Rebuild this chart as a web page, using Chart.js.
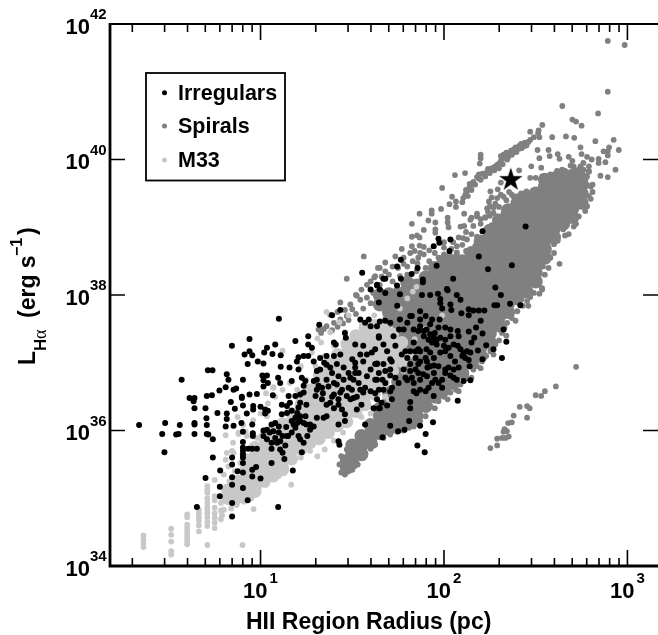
<!DOCTYPE html>
<html>
<head>
<meta charset="utf-8">
<title>HII regions</title>
<script src="https://cdn.jsdelivr.net/npm/chart.js@4"></script>
<style>
body { margin: 0; background: #fff; overflow: hidden; }
canvas { display: block; }
</style>
</head>
<body>
<canvas id="hiiChart" width="658" height="635"></canvas>
<script>
// all values are log10(radius/pc), log10(L/erg s-1)
var xDecades = [1, 2, 3];
var yDecades = [34, 36, 38, 40, 42];
var minorFactors = [2, 3, 4, 5, 6, 7, 8, 9];
var legendNames = ["Irregulars", "Spirals", "M33"];
var starPoint = [2.364, 39.70];

// logR, logL, logR, logL ...
var irregularsLeft = [
.338,36.08,.48,36.11,.464,35.95,.476,35.68,.56,36.08,.553,35.95,.54,35.94,.57,36.75,.64,36.09,.64,36.11,.64,35.95,
.613,36.48,.64,36.48,.635,36.43,.64,36.33,.70,36.33,.707,36.51,.735,36.52,.713,36.89,.738,36.89,.705,36.18,.707,36.08,
.707,35.95,.715,35.94,.74,35.87,.74,35.6,.765,36.26,.70,35.3,.653,34.87,.776,36.59,.78,35.41,.778,35.17,.778,35.03,
.81,36.64,.816,36.83,.825,36.75,.816,36.25,.816,36.17,.81,36.06,.853,36.07,.844,37.25,.838,36.42,.86,36.32,.853,36.6,.867,36.62,
.845,35.6,.845,35.5,.845,35.31,.845,35.2,.845,34.93,.845,34.73,.904,36.75,.898,36.5,.898,36.48,.904,36.37,.896,36.11,.904,35.98,
.904,35.83,.904,35.75,.904,35.7,.904,35.65,.904,35.6,.904,35.52,.904,35.38,.904,35.15,.875,35.4,.93,34.97,.94,37.35,.913,37.12,
.94,37.17,.955,37.11,.93,36.98,.94,36.53,.98,36.54,.925,36.25,.96,36.36,.96,36.31,.955,36.09,.958,35.96,.958,35.92,
.933,35.73,.955,35.73,.98,35.73,.955,35.42,.976,35.46,.955,35.32,1.0,35.29,.985,37.02,1.016,36.99,1.02,37.15,1.035,37.22,
1.065,37.13,1.08,37.27,1.11,37.11,1.1,37.65,1.01,36.81,1.035,36.81,1.016,36.74,1.04,36.7,1.016,36.65,1.0,36.35,1.025,36.31,
1.04,36.29,1.025,36.25,1.067,36.52,1.096,36.78,1.107,36.7,1.11,36.94,1.158,36.93,1.19,37.32,1.176,35.41,1.096,34.87,1.06,35.52,1.13,35.58
];
var irregularsMiddle = [
1.06,36.09,1.08,36.11,1.10,36.06,1.035,36.01,1.05,35.97,1.07,35.99,1.10,35.97,1.12,35.92,1.016,35.92,1.035,35.87,1.06,35.82,
1.09,35.82,1.06,35.73,1.107,35.72,1.12,35.67,1.15,35.92,1.17,35.97,1.14,36.05,1.18,36.09,1.207,35.92,1.216,35.87,1.235,35.82,
1.255,35.92,1.225,35.68,1.29,36.06,1.25,36.09,1.27,36.01,1.425,36.09,1.46,36.14,1.57,36.09,1.425,35.84,1.43,35.79,1.116,36.24,
1.144,36.26,1.17,36.29,1.2,36.26,1.216,36.21,1.19,36.19,1.216,36.14,1.16,36.41,1.19,36.51,1.216,36.53,1.235,36.56,1.153,36.51,
1.216,36.41,1.207,36.34,1.25,36.38,1.144,36.36,1.116,36.38,1.17,36.73,1.225,36.78,1.207,36.9,1.198,37.02,1.235,37.1,1.26,37.1,
1.207,37.08,1.26,37.27,1.26,37.39,1.28,37.22,1.29,37.02,1.325,37.07,1.36,37.1,1.32,37.56,1.39,37.7,1.435,37.78,1.4,37.3,1.41,37.27,
1.46,37.44,1.465,37.37,1.435,37.12,1.4,37.1,1.36,36.97,1.38,36.93,1.416,36.98,1.453,36.93,1.307,36.88,1.325,36.9,1.316,36.66,
1.335,36.63,1.37,36.65,1.416,36.68,1.49,36.78,1.535,36.85,1.516,37.0,1.516,37.27,1.56,37.25,1.58,37.12,1.544,37.12,1.516,36.85,
1.516,36.93,1.6,36.9,1.635,36.98,1.544,37.64,1.57,37.59,1.6,37.54,1.645,37.39,1.59,37.64,1.65,37.61,1.65,38.08,1.645,37.89,
1.435,36.56,1.4,36.53,1.38,36.41,1.36,36.38,1.4,36.33,1.425,36.38,1.444,36.31,1.46,36.24,1.335,36.46,1.3,36.51,1.48,36.63,
1.47,36.51,1.507,36.48,1.544,36.6,1.57,36.63,1.525,36.31,1.55,36.38,1.6,36.58,1.635,36.46,1.65,36.33,1.344,36.19,1.36,36.21,
1.29,36.73,1.244,36.73,1.235,36.66,
1.016,36.0,1.08,35.89,1.107,35.84,1.135,35.78,1.17,36.14,1.2,36.11,1.235,36.11,1.19,36.04,1.144,35.92,1.245,36.21,1.27,36.09,1.307,36.19,
1.307,36.6,1.34,36.55,1.307,36.75,1.347,37.0,1.39,36.85,1.425,36.8,1.453,36.75,1.48,36.85,1.507,36.75,1.36,36.75,1.4,36.7,1.444,36.6,
1.39,36.5,1.425,36.46,1.49,36.46,1.525,36.5,1.56,36.56,1.5,37.05,1.56,37.02,1.607,37.15,1.625,36.75,1.58,36.8,1.535,36.7,1.498,36.6
];
var irregularsRight = [
1.68,38.03,1.76,38.01,1.88,38.0,1.925,38.0,1.967,38.02,2.02,38.07,2.07,38.0,2.09,37.93,1.98,37.94,1.98,37.88,2.035,37.86,
2.04,37.78,1.99,37.8,2.095,37.73,2.135,37.79,2.135,37.7,2.16,37.77,2.19,37.77,2.22,37.77,2.275,37.85,2.29,37.85,2.31,38.0,
2.36,37.87,2.416,37.85,2.2,37.62,2.325,37.49,2.34,37.31,2.175,37.52,2.135,37.46,2.21,37.43,2.165,37.37,2.15,37.3,2.075,37.47,
2.08,37.39,2.23,37.26,2.27,37.2,2.316,37.07,2.21,37.05,2.185,37.18,2.144,37.15,2.125,37.17,2.075,37.25,2.09,37.2,2.107,37.14,
2.116,37.07,2.135,37.04,2.14,36.95,2.107,36.73,2.144,36.74,2.075,36.44,1.944,36.51,1.916,36.63,1.87,36.6,1.9,36.58,1.835,36.58,
1.85,36.55,1.816,36.42,1.816,36.33,1.81,36.14,1.69,36.37,1.707,36.07,1.665,35.9,1.75,35.99,1.785,36.01,1.87,36.07,1.94,36.12,
1.9,35.95,1.855,35.78,1.895,35.68,1.87,37.76,1.825,37.69,1.87,37.64,1.9,37.69,1.935,37.64,1.976,37.64,1.925,37.57,1.97,37.52,
2.007,37.52,2.035,37.49,1.86,37.47,1.89,37.47,1.925,37.42,1.916,37.34,1.945,37.37,1.98,37.37,2.007,37.34,1.935,37.3,1.96,37.27,
2.0,37.25,2.007,37.17,1.835,37.3,1.86,37.2,1.845,37.17,1.87,37.17,1.905,37.2,1.925,37.15,1.845,37.07,1.816,36.98,1.87,37.02,
1.9,37.07,1.945,37.07,1.97,36.95,1.945,36.96,1.91,36.93,1.86,36.98,1.845,36.9,1.887,36.83,1.86,36.85,1.79,36.78,1.8,36.74,
1.945,36.85,1.953,36.75,1.97,36.7,2.007,36.9,2.025,36.93,2.053,36.9,2.08,36.93,2.007,36.85,2.053,36.78,2.07,36.75,2.035,36.81,
1.99,36.75,1.635,37.54,1.645,37.37,1.68,37.62,1.745,37.84,1.755,37.49,1.78,37.49,1.76,37.64,1.707,37.05,1.77,37.12,1.79,37.17,
1.715,37.02,1.67,36.98,1.635,36.99,1.707,36.9,1.68,36.88,1.645,36.85,1.707,36.81,1.735,36.78,1.635,36.75,1.665,36.75,1.645,36.6,
1.717,36.63,1.707,36.58,1.67,36.6,1.625,36.55,1.616,36.33,1.645,36.33,
1.87,37.54,1.905,37.49,1.95,37.44,1.89,37.39,1.96,37.34,2.035,37.39,2.053,37.27,2.025,37.22,1.98,37.15,2.035,37.1,2.06,37.02,2.1,37.1,
1.907,37.02,1.925,36.95,1.816,36.88,1.825,36.78,1.87,36.75,1.907,36.8,1.99,36.63,1.935,36.7,1.835,36.7,1.78,36.9,1.8,37.07,1.816,37.17,
1.835,37.49,1.8,37.59,1.707,37.59,1.816,37.69,1.725,37.39,1.67,37.27,1.625,37.2,1.69,37.17,1.735,37.25,1.68,36.7,1.753,36.7,1.625,36.98,
1.716,36.46,1.66,36.41
];
var irregularsTop = [
2.445,39.01,2.21,38.94,2.37,38.44,2.19,38.57,2.24,38.38,2.28,38.11,1.97,38.83,1.975,38.77,1.944,38.72,2.035,38.82,2.03,38.65,
1.96,38.43,1.765,38.52,1.745,38.42,1.856,38.4,1.824,38.31,1.765,38.24,1.885,38.23,1.885,38.19,2.05,38.24,2.016,38.09,1.68,38.24,
1.67,38.24,1.635,38.14,1.744,38.14,1.6,38.08,1.554,38.33,1.635,38.15
];

var spiralsUpper = [
2.893,41.75,2.985,41.69,2.893,41.0,2.645,40.79,2.84,40.68,2.70,40.59,2.72,40.56,2.75,40.5,2.536,40.51,2.516,40.43,2.513,40.39,
2.47,40.41,2.49,40.33,2.52,40.33,2.59,40.33,2.665,40.34,2.71,40.32,2.925,40.29,2.825,40.27,2.90,40.18,2.744,40.18,2.953,40.14,
2.51,40.14,2.57,40.14,2.52,40.02,2.576,40.05,2.62,40.08,2.63,40.01,2.87,40.12,2.893,40.12,2.893,40.06,2.843,40.01,2.843,39.95,
2.88,39.96,2.68,40.04,2.70,39.98,2.69,39.91,2.75,40.08,2.78,40.04,2.805,40.0,2.76,39.95,2.79,39.9,2.935,39.85,2.893,39.74,2.853,39.76,
2.476,39.9,2.53,39.88,2.41,39.84,2.2,40.07,2.2,40.02,2.195,39.94,2.06,39.77,2.115,39.8,1.99,39.58,2.253,39.53,2.293,39.56,2.31,39.66,
2.044,39.45,2.03,39.34,2.065,39.38,2.065,39.3,2.1,39.37,1.984,39.27,1.933,39.25,1.933,39.2,1.867,39.2,1.825,39.05,1.915,39.1,1.953,39.07,
2.02,39.14,2.02,39.07,2.025,39.0,1.89,38.96,1.953,38.97,1.953,38.92,1.825,38.86,1.853,38.88,1.867,38.85,1.825,38.72,1.867,38.73,1.89,38.71,
2.63,38.46,2.11,39.2,2.09,39.01,2.11,39.02,2.15,39.14,2.18,39.2,2.2,39.12,2.225,39.15,2.25,39.17,2.28,39.1,2.24,39.23,2.25,39.31,
2.27,39.29,2.245,39.38,2.26,39.44,2.29,39.43,2.325,39.45,2.355,39.52,2.38,39.45,2.105,38.84,2.125,38.82,2.15,38.9,2.18,38.86,
2.144,39.11,2.18,39.16,2.225,39.14,2.27,39.21,2.235,39.28,2.28,39.35,2.3,39.3,2.34,39.4,2.37,39.48,2.31,39.48,2.2,39.05,2.16,39.02,
2.12,38.93,2.08,38.85,2.05,38.78,2.0,38.7,2.0,38.78,1.95,38.62,1.92,38.66,1.89,38.6,1.86,38.55,1.83,38.5,2.07,38.72,2.1,38.74,
// streak above the star
2.116,39.48,2.125,39.53,2.14,39.6,2.16,39.67,2.18,39.74,2.21,39.79,2.235,39.82,2.26,39.87,2.29,39.92,2.31,39.98,2.325,40.07,
2.355,40.09,2.38,40.15,2.41,40.2,2.44,40.25,2.47,40.29,2.13,39.46,2.15,39.55,2.17,39.63,2.2,39.7,2.225,39.75,2.25,39.8,2.275,39.84,
2.3,39.87,2.32,39.93,2.345,40.0,2.37,40.07,2.395,40.11,2.425,40.17,2.45,40.21,2.105,39.43,2.14,39.64,2.19,39.78,2.24,39.86,2.28,39.9,
2.33,40.02,2.35,40.04,2.38,40.11,2.41,40.16,2.44,40.2,2.31,40.05,2.34,40.1,2.365,40.13,2.4,40.17,2.43,40.22,2.46,40.26,
2.12,39.55,2.15,39.62,2.19,39.72,2.23,39.79,2.27,39.88,2.3,39.94,2.335,40.06,2.39,40.18,2.42,40.23,
// row along the top of the cloud
2.47,39.73,2.50,39.73,2.535,39.75,2.544,39.66,2.58,39.78,2.616,39.83,2.644,39.85,2.607,39.6,2.65,39.66,2.69,39.75,2.725,39.8,
2.76,39.85,2.744,39.9,2.78,39.63,2.81,39.63,2.45,39.53,2.42,39.5,2.4,39.46,2.78,39.75,2.76,39.46,2.78,39.31,2.735,39.16,
2.707,39.01,2.65,38.97,2.81,39.52,2.8,39.42,2.77,39.24,2.72,39.05,2.68,38.9,2.6,38.75,2.62,39.74,2.67,39.8,2.71,39.85,2.74,39.8,2.79,39.82,
2.707,39.9,2.735,39.85,2.76,39.75,2.79,39.83,2.735,39.7,2.707,39.66,2.69,39.8,2.77,39.63,2.8,39.6,2.79,39.46,2.77,39.31,
// left strip
1.77,38.68,1.735,38.57,1.68,38.48,1.65,38.4,1.625,38.28,1.72,38.42,1.816,38.62,1.84,38.65,1.87,38.62,1.78,38.55,1.855,38.47,1.8,38.42,
1.563,38.57,1.47,38.24,1.52,38.0,1.64,38.4,1.62,38.26,1.9,38.4,1.92,38.5,1.97,38.55,2.0,38.6,2.04,38.68,2.07,38.6,1.58,38.15,1.55,38.08,
1.7,38.3,1.75,38.4,1.68,38.35,1.6,38.2,1.65,38.15,1.72,38.2,1.8,38.3,1.85,38.35,1.76,38.28,1.78,38.46,1.66,38.27
];
var spiralsLower = [
1.316,37.49,1.36,37.54,1.4,37.59,1.435,37.64,1.47,37.69,1.38,37.71,1.435,37.89,1.49,37.86,1.5,37.79,1.544,37.93,1.525,37.99,1.58,37.96,1.615,38.03,
1.33,37.44,1.345,37.5,1.39,37.48,1.42,37.53,1.45,37.58,1.48,37.63,1.52,37.72,1.56,37.8,1.6,37.88,1.46,37.78,1.42,37.75,
// edge of the dense band
1.44,35.38,1.46,35.35,1.43,35.5,1.44,35.62,1.47,35.72,1.5,35.42,1.53,35.5,1.56,35.6,1.6,35.73,1.625,35.79,1.67,35.89,1.707,35.94,1.744,35.98,1.78,36.0,
1.835,36.06,1.87,36.14,1.9,36.21,1.925,36.36,1.97,36.43,2.035,36.56,2.09,36.68,2.16,36.9,2.207,37.02,2.253,37.17,2.28,37.27,2.316,37.44,
2.344,37.59,2.4,37.76,2.453,37.91,2.49,38.03,2.535,38.1,2.535,38.08,2.52,38.18,2.54,38.42,2.58,38.55,2.56,38.77,
1.81,36.04,1.85,36.1,1.95,36.33,2.0,36.5,2.065,36.6,2.125,36.77,2.18,36.95,2.23,37.1,2.3,37.33,2.33,37.52,2.37,37.66,2.43,37.84,2.47,37.97,2.51,38.18,2.55,38.3,
2.02,36.46,2.08,36.58,2.15,36.78,2.2,36.92,2.27,37.12,2.34,37.4,2.39,37.62,2.46,37.84,2.52,38.02,2.57,38.4,2.6,38.62,2.62,38.8,2.66,38.88,
// upper edge of the band
2.29,39.16,2.325,39.21,2.26,39.03,2.22,38.95,2.17,38.72,2.12,38.65,2.07,38.63,2.03,38.6,1.98,38.52,1.94,38.45,
// branch below the band
2.72,36.94,2.61,36.65,2.55,36.58,2.53,36.51,2.5,36.52,2.467,36.33,2.453,36.36,2.413,36.35,2.38,36.22,2.453,36.19,2.37,36.12,2.35,36.11,
2.33,36.02,2.343,35.99,2.325,35.98,2.353,35.91,2.335,35.89,2.316,35.89,2.29,35.88,2.29,35.78,2.253,35.74
];
// dense part of the cloud: first number of a row is logR, the rest logL
var spiralsCore = [
[1.47,35.45,35.55],
[1.50,35.52,35.66,35.78],
[1.55,35.65,35.78,35.92],
[1.60,35.82,35.95,36.08],
[1.65,35.96,36.09,36.22,36.32,37.86,38.0],
[1.70,36.03,36.16,36.3,36.43,36.56,37.62,37.75,37.88,38.01],
[1.75,36.06,36.19,36.32,36.45,36.58,36.72,36.85,37.0,37.15,37.3,37.45,37.6,37.75,37.88,38.02],
[1.80,36.13,36.26,36.39,36.52,36.65,36.78,36.91,37.04,37.17,37.3,37.43,37.56,37.69,37.82,37.95,38.08,38.18],
[1.85,36.22,36.35,36.48,36.61,36.74,36.87,37.0,37.13,37.26,37.39,37.52,37.65,37.78,37.91,38.04,38.14],
[1.90,36.36,36.49,36.62,36.75,36.88,37.01,37.14,37.27,37.4,37.53,37.66,37.79,37.92,38.05,38.18,38.26],
[1.95,36.5,36.63,36.76,36.89,37.02,37.15,37.28,37.41,37.54,37.67,37.8,37.93,38.06,38.19,38.32,38.4],
[2.00,36.6,36.73,36.86,36.99,37.12,37.25,37.38,37.51,37.64,37.77,37.9,38.03,38.16,38.29,38.42,38.5],
[2.05,36.7,36.83,36.96,37.09,37.22,37.35,37.48,37.61,37.74,37.87,38.0,38.13,38.26,38.39,38.5],
[2.10,36.85,36.98,37.11,37.24,37.37,37.5,37.63,37.76,37.89,38.02,38.15,38.28,38.41,38.5],
[2.15,37.0,37.13,37.26,37.39,37.52,37.65,37.78,37.91,38.04,38.17,38.3,38.43,38.56,38.62],
[2.20,37.1,37.23,37.36,37.49,37.62,37.75,37.88,38.01,38.14,38.27,38.4,38.53,38.66,38.79],
[2.25,37.3,37.43,37.56,37.69,37.82,37.95,38.08,38.21,38.34,38.47,38.6,38.73,38.86,38.95],
[2.30,37.55,37.68,37.81,37.94,38.07,38.2,38.33,38.46,38.59,38.72,38.85,38.98,39.1],
[2.35,37.75,37.88,38.01,38.14,38.27,38.4,38.53,38.66,38.79,38.92,39.05,39.18,39.25],
[2.40,37.95,38.08,38.21,38.34,38.47,38.6,38.73,38.86,38.99,39.12,39.25,39.35],
[2.45,38.05,38.18,38.31,38.44,38.57,38.7,38.83,38.96,39.09,39.22,39.35,39.45],
[2.50,38.2,38.33,38.46,38.59,38.72,38.85,38.98,39.11,39.24,39.37,39.5],
[2.55,38.55,38.68,38.81,38.94,39.07,39.2,39.33,39.46,39.6,39.7],
[2.60,38.85,38.98,39.11,39.24,39.37,39.5,39.63,39.72],
[2.65,39.05,39.18,39.31,39.44,39.57,39.7,39.78],
[2.70,39.15,39.28,39.41,39.54,39.67,39.76],
[2.75,39.36,39.5,39.62,39.72]
];

var m33Sparse = [
.362,34.45,.362,34.39,.362,34.33,.362,34.28,.513,34.55,.513,34.46,.513,34.36,.513,34.22,.513,34.17,.60,34.76,.60,34.72,.60,34.61,.60,34.56,
.60,34.51,.60,34.46,.60,34.41,.60,34.36,.60,34.32,.664,34.83,.664,34.78,.664,34.72,.664,34.67,.664,34.51,.664,34.6,.71,35.18,.71,35.13,.71,35.08,
.71,35.0,.71,34.93,.71,34.87,.71,34.83,.71,34.78,.71,34.72,.71,34.65,.71,34.59,.71,34.31,.75,35.27,.75,35.03,.75,34.97,.75,34.86,.75,34.78,
.75,34.71,.75,34.64,.75,34.56,.784,34.93,.784,34.82,.784,34.69,.902,34.31,.81,35.93,.962,34.84,1.167,35.2,.81,35.1,.82,34.95,.845,35.7,
.85,35.82,.88,35.95,.875,36.2,.905,36.08,.92,35.98,.96,36.15,1.0,36.25,1.04,36.4,1.07,36.64,1.12,37.18,1.03,36.55,1.08,36.5,1.12,36.6,
1.16,36.7,1.22,36.95,1.28,37.15,1.33,37.3,1.38,37.45,1.43,37.6,1.48,37.7,1.36,37.75,1.31,37.36,1.83,38.05,1.85,38.12,1.8,37.95,1.76,37.8,
1.9,37.5,1.84,37.35,1.99,37.7,1.78,36.88,1.82,37.1,1.68,36.5,1.7,36.45,1.6,36.25,1.55,36.2,1.45,35.97,1.4,35.85,1.35,35.72,1.31,35.62,1.27,35.7,
1.22,35.6,1.18,35.55,1.14,35.45,1.1,35.33,1.07,35.28,1.03,35.2,.99,35.15,.95,35.0,.91,34.95,.87,34.9,.84,34.85,.8,34.83,.79,34.75,
.816,35.67,.81,35.57,.825,35.47,.8,35.35,.853,35.67,.88,35.97,.925,35.92,.89,35.52,.925,35.62,.96,35.77,.98,35.89,1.035,36.21,1.07,36.63,
.86,35.4,.89,35.3,.83,35.25,1.15,36.3,1.2,36.6,1.25,36.75,1.3,36.95,1.35,37.1,1.4,37.25,1.46,37.45,1.55,37.6,1.62,37.7
];
var m33Core = [
[.82,35.0,35.12],
[.87,35.0,35.13,35.25],
[.92,35.03,35.15,35.28,35.42,35.55],
[.97,35.1,35.23,35.36,35.5,35.62,35.75],
[1.02,35.25,35.37,35.5,35.63,35.76,35.9],
[1.07,35.33,35.46,35.59,35.72,35.86,36.0],
[1.12,35.42,35.55,35.68,35.81,35.96,36.1],
[1.17,35.58,35.71,35.84,35.97,36.12,36.25],
[1.22,35.72,35.85,35.98,36.11,36.24,36.38,36.5],
[1.27,35.82,35.95,36.08,36.21,36.34,36.46,36.6],
[1.32,35.88,36.01,36.14,36.27,36.4,36.54,36.68,36.82],
[1.37,35.97,36.1,36.23,36.36,36.49,36.62,36.72,36.85,36.98],
[1.42,36.07,36.2,36.33,36.46,36.59,36.72,36.86,37.0,37.12],
[1.47,36.13,36.26,36.39,36.52,36.65,36.78,36.91,37.02,37.15,37.28],
[1.52,36.28,36.41,36.54,36.67,36.8,36.93,37.06,37.14,37.27,37.4],
[1.57,36.38,36.51,36.64,36.77,36.9,37.03,37.16,37.28,37.41,37.52],
[1.62,36.54,36.67,36.8,36.93,37.06,37.19,37.32,37.42,37.55],
[1.67,36.72,36.85,36.98,37.11,37.24,37.37,37.5],
[1.72,36.88,37.01,37.14,37.27,37.42],
[1.77,37.02,37.15,37.3]
];

function fromPairs(list) {
	var out = [];
	for (var i = 0; i < list.length; i += 2) {
		out.push({ x: Math.pow(10, list[i]), y: Math.pow(10, list[i + 1]) });
	}
	return out;
}
function fromRows(rows) {
	var out = [];
	rows.forEach(function (row) {
		for (var i = 1; i < row.length; i++) {
			out.push({ x: Math.pow(10, row[0]), y: Math.pow(10, row[i]) });
		}
	});
	return out;
}

// five pointed star, Chart.js has only the crossed one
var starImage = document.createElement("canvas");
starImage.width = 26;
starImage.height = 26;
(function () {
	var c = starImage.getContext("2d");
	c.beginPath();
	for (var i = 0; i < 10; i++) {
		var r = i % 2 ? 4.7 : 12.3;
		var a = -Math.PI / 2 + i * Math.PI / 5;
		c.lineTo(13 + r * Math.cos(a), 13 + r * Math.sin(a));
	}
	c.closePath();
	c.fillStyle = "#000";
	c.fill();
})();

var sansBold = "'Liberation Sans', Arial, sans-serif";
var markColors = ["#000000", "#808080", "#c8c8c8"];

// ten with a raised exponent
function powerLabel(c, right, base, exp, expLeft, expBase) {
	c.textAlign = "right";
	c.font = "bold 22px " + sansBold;
	c.fillText("10", right, base);
	c.textAlign = "left";
	c.font = "bold 15px " + sansBold;
	c.fillText(String(exp), expLeft, expBase);
}

var figurePlugin = {
	id: "figure",
	afterDatasetsDraw: function (chart) {
		var c = chart.ctx, a = chart.chartArea;
		var sx = chart.scales.x, sy = chart.scales.y;
		c.save();
		c.strokeStyle = "#000";
		c.fillStyle = "#000";
		c.textBaseline = "alphabetic";

		// frame, left and bottom are heavier and the right side runs off the page
		c.lineWidth = 1.8;
		c.beginPath(); c.moveTo(a.left, a.top); c.lineTo(a.right, a.top); c.stroke();
		c.lineWidth = 2.8;
		c.beginPath(); c.moveTo(a.left, a.top - 1); c.lineTo(a.left, a.bottom); c.lineTo(a.right, a.bottom); c.stroke();

		// ticks point inward on all sides
		c.lineWidth = 1.6;
		xDecades.forEach(function (d) {
			var px = sx.getPixelForValue(Math.pow(10, d));
			c.beginPath();
			c.moveTo(px, a.bottom); c.lineTo(px, a.bottom - 16);
			c.moveTo(px, a.top); c.lineTo(px, a.top + 16);
			c.stroke();
			minorFactors.forEach(function (f) {
				var mx = sx.getPixelForValue(f * Math.pow(10, d - 1));
				c.beginPath();
				c.moveTo(mx, a.bottom); c.lineTo(mx, a.bottom - 8);
				c.moveTo(mx, a.top); c.lineTo(mx, a.top + 8);
				c.stroke();
			});
			powerLabel(c, px + 7, 598, d, px + 9, 583);
		});
		yDecades.forEach(function (d) {
			var py = sy.getPixelForValue(Math.pow(10, d));
			c.lineWidth = 1.6;
			c.beginPath();
			c.moveTo(a.left, py); c.lineTo(a.left + 15, py);
			c.moveTo(a.right - 15, py); c.lineTo(a.right, py);
			c.stroke();
			powerLabel(c, 90, py + 9.5, d, 90, py - 5);
		});

		// axis titles
		c.textAlign = "left";
		c.font = "bold 23px " + sansBold;
		c.fillText("HII Region Radius (pc)", 246, 629);

		c.save();
		c.translate(35, 365);
		c.rotate(-Math.PI / 2);
		c.font = "bold 23px " + sansBold;
		c.fillText("L", 0, 0);
		c.font = "bold 17px " + sansBold;
		c.fillText("H", 14, 11);
		c.font = "18px 'Liberation Serif', serif";
		c.fillText("\u03B1", 26, 11);
		c.font = "bold 23px " + sansBold;
		c.fillText("(erg s", 47, 0);
		c.font = "bold 16px " + sansBold;
		c.fillText("\u22121", 109, -13);
		c.font = "bold 23px " + sansBold;
		c.fillText(")", 130, 0);
		c.restore();

		// legend
		c.fillStyle = "#fff";
		c.fillRect(146, 73, 139, 107.5);
		c.lineWidth = 1.8;
		c.strokeRect(146, 73, 139, 107.5);
		var rows = [[92.7, 100], [126, 133], [160, 167]];
		c.font = "bold 21.5px " + sansBold;
		legendNames.forEach(function (name, i) {
			c.fillStyle = markColors[i];
			c.beginPath();
			c.arc(164.5, rows[i][0], 2.5, 0, Math.PI * 2);
			c.fill();
			c.fillStyle = "#000";
			c.fillText(name, 178, rows[i][1]);
		});
		c.restore();
	}
};

function zeroFit(scale) {
	if (scale.axis === "x") { scale.height = 0; } else { scale.width = 0; }
}

var dot = function (label, data, color, size) {
	return { label: label, data: data, backgroundColor: color, borderWidth: 0, pointRadius: size, pointHoverRadius: size };
};

var chart = new Chart(document.getElementById("hiiChart"), {
	type: "scatter",
	data: {
		// first dataset is painted last
		datasets: [
			{ label: "Star", data: fromPairs(starPoint), pointStyle: starImage, pointRadius: 12 },
			dot("Irregulars", fromPairs(irregularsLeft.concat(irregularsMiddle, irregularsRight, irregularsTop)), markColors[0], 3),
			dot("M33", fromPairs(m33Sparse), markColors[2], 2.9),
			dot("M33 dense", fromRows(m33Core), markColors[2], 6.5),
			dot("Spirals", fromPairs(spiralsUpper.concat(spiralsLower)), markColors[1], 2.9),
			dot("Spirals dense", fromRows(spiralsCore), markColors[1], 7)
		]
	},
	options: {
		responsive: false,
		animation: false,
		layout: { autoPadding: false, padding: { left: 110, top: 24, right: 0, bottom: 69 } },
		plugins: { legend: { display: false }, tooltip: { enabled: false } },
		scales: {
			x: {
				type: "logarithmic",
				min: Math.pow(10, 0.1794),
				max: Math.pow(10, 3.1667),
				afterFit: zeroFit,
				grid: { display: false },
				border: { display: false },
				ticks: { display: false }
			},
			y: {
				type: "logarithmic",
				min: 1e34,
				max: 1e42,
				afterFit: zeroFit,
				grid: { display: false },
				border: { display: false },
				ticks: { display: false }
			}
		}
	},
	plugins: [figurePlugin]
});
</script>
</body>
</html>
